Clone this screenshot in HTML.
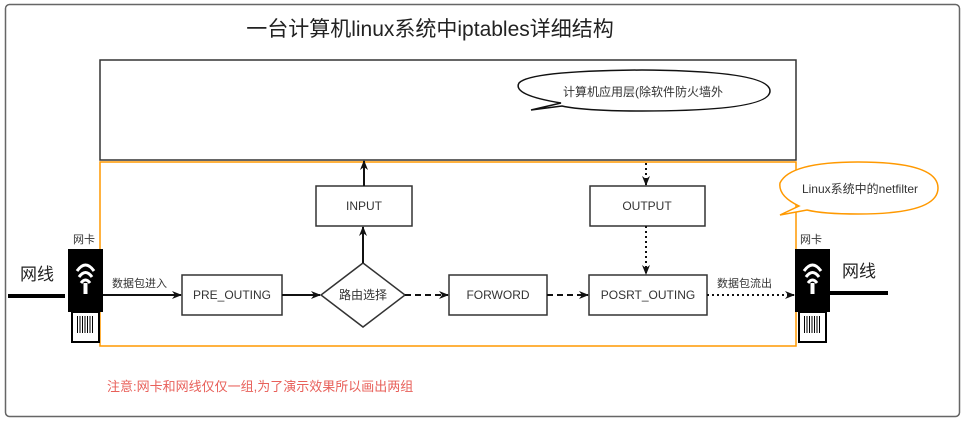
<!DOCTYPE html>
<html><head><meta charset="utf-8"><style>
html,body{margin:0;padding:0;background:#fff;}
svg{display:block;font-family:"Liberation Sans","Noto Sans CJK SC",sans-serif;}
</style></head><body>
<svg width="971" height="423" viewBox="0 0 971 423" xmlns="http://www.w3.org/2000/svg">
<defs>
<marker id="ah" markerWidth="10" markerHeight="10" refX="9" refY="5" orient="auto" markerUnits="userSpaceOnUse"><path d="M0,1 L10,5 L0,9 L3,5 Z" fill="#111"/></marker>
</defs>
<rect x="5.5" y="4.5" width="954" height="412" rx="4" fill="#fff" stroke="#666" stroke-width="1.5"/>
<text x="430" y="36" font-size="21" text-anchor="middle" fill="#222">一台计算机linux系统中iptables详细结构</text>
<rect x="100" y="60" width="696" height="100" fill="#fff" stroke="#333" stroke-width="1.5"/>
<rect x="100" y="162" width="696" height="184" fill="none" stroke="#f90" stroke-width="1.5"/>
<path d="M531,110 L561,103 Q512,95 519,83 Q530,71 642,70 Q770,71 770,91 Q770,111 642,111 Q585,111 562,106 Z" fill="#fff" stroke="#111" stroke-width="1.5"/>
<text x="643" y="96" font-size="12" text-anchor="middle" fill="#333">计算机应用层(除软件防火墙外</text>
<path d="M780,215 L799,206 Q778,196 780,183 Q790,162 858,162 Q938,162 938,188 Q938,214 858,214 Q823,214 807,210 Z" fill="#fff" stroke="#f90" stroke-width="1.5"/>
<text x="860" y="193" font-size="12" text-anchor="middle" fill="#333">Linux系统中的netfilter</text>
<rect x="316" y="186" width="96" height="40" fill="#fff" stroke="#333" stroke-width="1.5"/>
<text x="364" y="210" font-size="12" text-anchor="middle" fill="#333">INPUT</text>
<rect x="590" y="186" width="115" height="40" fill="#fff" stroke="#333" stroke-width="1.5"/>
<text x="647" y="210" font-size="12" text-anchor="middle" fill="#333">OUTPUT</text>
<rect x="182" y="275" width="100" height="40" fill="#fff" stroke="#333" stroke-width="1.5"/>
<text x="232" y="299" font-size="12" text-anchor="middle" fill="#333">PRE_OUTING</text>
<path d="M363,263 L405,295 L363,327 L321,295 Z" fill="#fff" stroke="#333" stroke-width="1.5"/>
<text x="363" y="299" font-size="12" text-anchor="middle" fill="#333">路由选择</text>
<rect x="449" y="275" width="98" height="40" fill="#fff" stroke="#333" stroke-width="1.5"/>
<text x="498" y="299" font-size="12" text-anchor="middle" fill="#333">FORWORD</text>
<rect x="589" y="275" width="118" height="40" fill="#fff" stroke="#333" stroke-width="1.5"/>
<text x="648" y="299" font-size="12" text-anchor="middle" fill="#333">POSRT_OUTING</text>
<g stroke="#111" stroke-width="2" fill="none">
<line x1="103" y1="295" x2="181" y2="295" marker-end="url(#ah)"/>
<line x1="282" y1="295" x2="320" y2="295" marker-end="url(#ah)"/>
<line x1="363" y1="263" x2="363" y2="227" marker-end="url(#ah)"/>
<line x1="364" y1="186" x2="364" y2="161" marker-end="url(#ah)"/>
<line x1="405" y1="295" x2="448" y2="295" stroke-dasharray="6,4" marker-end="url(#ah)"/>
<line x1="547" y1="295" x2="588" y2="295" stroke-dasharray="6,4" marker-end="url(#ah)"/>
<line x1="646" y1="163" x2="646" y2="185" stroke-dasharray="2,3" marker-end="url(#ah)"/>
<line x1="646" y1="226" x2="646" y2="274" stroke-dasharray="2,3" marker-end="url(#ah)"/>
<line x1="707" y1="295" x2="794" y2="295" stroke-dasharray="2,3" marker-end="url(#ah)"/>
</g>
<text x="112" y="287" font-size="11" fill="#333">数据包进入</text>
<text x="717" y="287" font-size="11" fill="#333">数据包流出</text>
<line x1="8" y1="296" x2="65" y2="296" stroke="#000" stroke-width="4"/>
<line x1="830" y1="293" x2="888" y2="293" stroke="#000" stroke-width="4"/>
<g transform="translate(68,249)">
<rect x="0" y="0" width="35" height="63" fill="#000"/>
<path d="M9,22 Q17.5,10 26,22" stroke="#fff" stroke-width="3" fill="none"/>
<path d="M11,28 Q17.5,19 24,28" stroke="#fff" stroke-width="3" fill="none"/>
<path d="M13,34 Q17.5,28 22,34" stroke="#fff" stroke-width="3" fill="none"/>
<rect x="15.5" y="34" width="4" height="11" fill="#fff"/>
<rect x="4" y="63" width="27" height="30" fill="#fff" stroke="#000" stroke-width="2"/>
<path d="M9,67h1v17h-1zM11.5,67h1v17h-1zM14,67h1v17h-1zM16.5,67h1v17h-1zM19,67h1v17h-1zM21.5,67h1v17h-1zM24,67h1v17h-1z" fill="#000"/>
</g>
<g transform="translate(795,249)">
<rect x="0" y="0" width="35" height="63" fill="#000"/>
<path d="M9,22 Q17.5,10 26,22" stroke="#fff" stroke-width="3" fill="none"/>
<path d="M11,28 Q17.5,19 24,28" stroke="#fff" stroke-width="3" fill="none"/>
<path d="M13,34 Q17.5,28 22,34" stroke="#fff" stroke-width="3" fill="none"/>
<rect x="15.5" y="34" width="4" height="11" fill="#fff"/>
<rect x="4" y="63" width="27" height="30" fill="#fff" stroke="#000" stroke-width="2"/>
<path d="M9,67h1v17h-1zM11.5,67h1v17h-1zM14,67h1v17h-1zM16.5,67h1v17h-1zM19,67h1v17h-1zM21.5,67h1v17h-1zM24,67h1v17h-1z" fill="#000"/>
</g>
<text x="73" y="243" font-size="11" fill="#333">网卡</text>
<text x="800" y="243" font-size="11" fill="#333">网卡</text>
<text x="20" y="280" font-size="17" fill="#222">网线</text>
<text x="842" y="277" font-size="17" fill="#222">网线</text>
<text x="107" y="391" font-size="13" fill="#e8605a">注意:网卡和网线仅仅一组,为了演示效果所以画出两组</text>
</svg>
</body></html>
